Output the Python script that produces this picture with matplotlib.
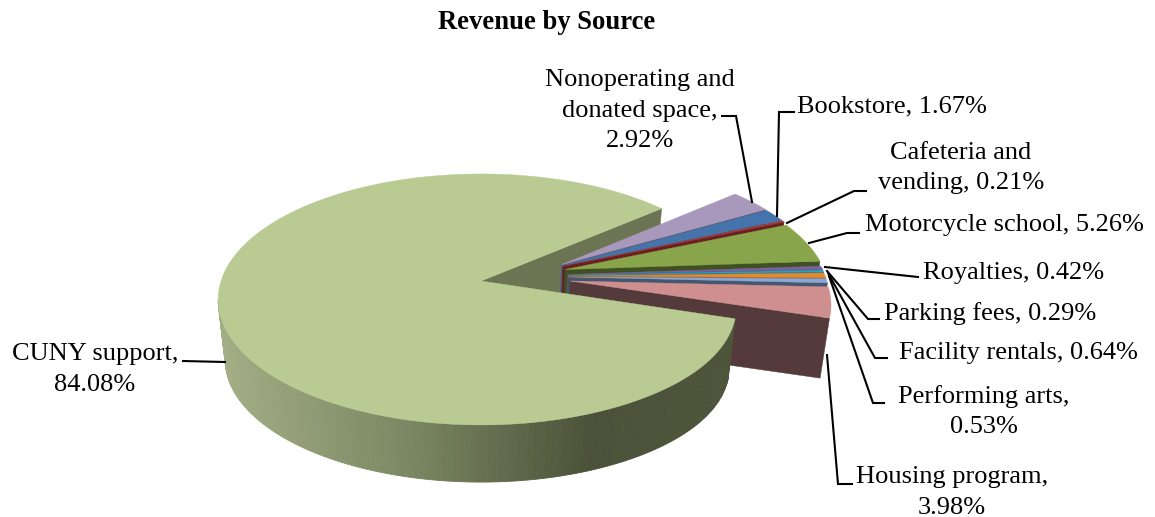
import numpy as np
import matplotlib
matplotlib.use("Agg")
import matplotlib.pyplot as plt
from matplotlib.colors import to_rgb

plt.rcParams["font.family"] = ["Liberation Serif", "DejaVu Serif"]

# ---- data, clockwise from the top of the gap ----
SOURCES = ["Nonoperating and donated space", "Bookstore", "Cafeteria and vending",
           "Motorcycle school", "Royalties", "Parking fees", "Facility rentals",
           "Performing arts", "Housing program", "CUNY support"]
SHARES = [2.92, 1.67, 0.21, 5.26, 0.42, 0.29, 0.64, 0.53, 3.98, 84.08]

TOP_COLORS = ["#a898bc", "#4474ab", "#a63e3b", "#89a54c", "#7c60a0",
              "#2f9fb8", "#e08a34", "#8aa6d6", "#cf8f8e", "#b9cb93"]
SIDE_COLORS = ["#625a6e", "#2c4766", "#6a1f20", "#3f5122", "#4b3a60",
               "#1f5c6c", "#8a5522", "#45566f", "#553a3b", "#6b7553"]

# label text lines, text anchor and leader line (pixels)
LABELS = [
    ("Nonoperating and\ndonated space,\n2.92%", 640, 110.5, "center", [(722, 116), (736, 116), (752, 202)]),
    ("Bookstore, 1.67%", 797, 106.5, "left", [(794, 112), (779, 112), (777, 216)]),
    ("Cafeteria and\nvending, 0.21%", 961, 168, "center", [(866, 191), (854, 191), (787, 223)]),
    ("Motorcycle school, 5.26%", 865, 224.5, "left", [(859, 233), (847, 233), (809, 243)]),
    ("Royalties, 0.42%", 923, 272.5, "left", [(918, 277), (825, 267)]),
    ("Parking fees, 0.29%", 884, 313.5, "left", [(879, 319), (868, 319), (827, 271)]),
    ("Facility rentals, 0.64%", 899, 353.5, "left", [(887, 358), (875, 358), (828, 273)]),
    ("Performing arts,\n0.53%", 984, 411.5, "center", [(884, 403), (873, 403), (829, 276)]),
    ("Housing program,\n3.98%", 952, 492.5, "center", [(852, 484), (838, 484), (827, 355)]),
    ("CUNY support,\n84.08%", 95, 369.5, "center", [(183, 361), (225, 362)]),
]

# ---- pie geometry ----
START_ANGLE = 40.2
CX, CY_TOP, CY_BOTTOM = 481, 281, 342
A, B, PERSP, BOTTOM_SCALE = 260, 122.8, 0.147, 0.973
BIG_TRIM = 0.03    # the big slice is a little narrower on its right side


def project(u, v, bottom=False):
    """Disc coordinates to image pixels, with a bit of perspective."""
    u, v = np.asarray(u, float), np.asarray(v, float)
    s = 1 / (1 + PERSP * v)
    k = BOTTOM_SCALE if bottom else 1.0
    cy = CY_BOTTOM if bottom else CY_TOP
    return CX + A * k * u * s, cy - B * k * v * s


def disc_pts(theta, off=(0, 0), r=1.0, trim=0.0):
    t = np.radians(theta)
    c = np.cos(t)
    return off[0] + r * c - trim * np.clip(c, 0, None) ** 8, off[1] + r * np.sin(t)


def top_face(ax, t0, t1, off, color, zorder, r=1.0, trim=0.0):
    th = np.linspace(t0, t1, 160)
    u, v = disc_pts(th, off, r, trim)
    x, y = project(np.r_[off[0], u], np.r_[off[1], v])
    ax.fill(x, y, color=color, lw=0.3, zorder=zorder)


def cut_face(ax, theta, off, color, zorder, r=1.0, trim=0.0):
    u, v = disc_pts(theta, off, r, trim)
    us = np.array([off[0], u, u, off[0]])
    vs = np.array([off[1], v, v, off[1]])
    x0, y0 = project(us[:2], vs[:2])
    x1, y1 = project(us[2:], vs[2:], bottom=True)
    ax.fill(np.r_[x0, x1], np.r_[y0, y1], color=color, lw=0.3, zorder=zorder)


def rim(ax, t0, t1, off, color_at, zorder, n=140, trim=0.0):
    edges = np.linspace(t0, t1, n + 1)
    for a0, a1 in zip(edges[:-1], edges[1:]):
        th = np.linspace(a0, a1, 3)
        u, v = disc_pts(th, off, 1.0, trim)
        xt, yt = project(u, v)
        xb, yb = project(u[::-1], v[::-1], bottom=True)
        c = color_at(xt.mean())
        ax.fill(np.r_[xt, xb], np.r_[yt, yb], color=c, ec=c, lw=0.6, zorder=zorder)


RIM_X = [218, 400, 590, 745]
RIM_RGB = np.array([to_rgb(c) for c in ["#a3ae85", "#7d8964", "#4b5239", "#4e553b"]])


def cuny_rim_color(x):
    return tuple(np.interp(x, RIM_X, RIM_RGB[:, i]) for i in range(3))


fig = plt.figure(figsize=(11.55, 5.17), dpi=100)
ax = fig.add_axes([0, 0, 1, 1])
ax.set_xlim(0, 1155)
ax.set_ylim(517, 0)
ax.axis("off")

# slice angles, going clockwise
sweeps = np.array(SHARES) / sum(SHARES) * 360
starts = START_ANGLE - np.r_[0, np.cumsum(sweeps)[:-1]]
ends = starts - sweeps

# CUNY back cut face sits behind the pulled-out slices
cut_face(ax, ends[-1], (0, 0), SIDE_COLORS[-1], 1, trim=BIG_TRIM)

# pulled-out slices, back to front
for i in range(len(SHARES) - 1):
    bis = (starts[i] + ends[i]) / 2
    off = (0.315 + 0.0006 * (35 - bis),
           np.interp(bis, [-10, 13.5, 23, 35], [0, 0.095, 0.122, 0.135]))
    rad = np.interp(bis, [-10, 13.5, 35], [0.985, 1.01, 1.015])
    z = 2 + i
    cut_face(ax, ends[i], off, SIDE_COLORS[i], z, r=rad)
    top_face(ax, starts[i], ends[i], off, TOP_COLORS[i], z + 0.5, r=rad)

# big slice in front: rim first, then the top
rim(ax, starts[-1], -171.5, (0, 0), cuny_rim_color, 20, trim=BIG_TRIM)
top_face(ax, starts[-1], ends[-1], (0, 0), TOP_COLORS[-1], 21, trim=BIG_TRIM)

# labels and leader lines
for text, x, y, ha, line in LABELS:
    ax.text(x, y, text, ha=ha, va="center", fontsize=19, linespacing=1.5,
            color="black", zorder=30)
    xs, ys = zip(*line)
    ax.plot(xs, ys, color="black", lw=1.5, zorder=25, solid_joinstyle="miter")

ax.text(546.5, 22.5, "Revenue by Source", ha="center", va="center",
        fontsize=19.2, fontweight="bold")

fig.savefig("out.png", dpi=100)
plt.close(fig)
